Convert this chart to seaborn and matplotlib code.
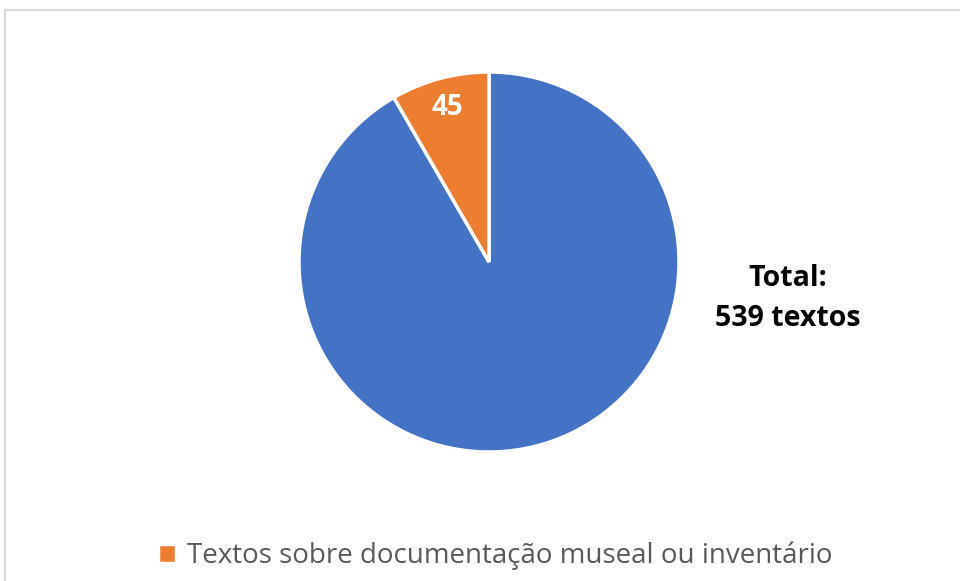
import matplotlib
matplotlib.use('Agg')
import matplotlib.pyplot as plt
import matplotlib.patches as mpatches
import seaborn as sns

# dados do gráfico
categorias = ['Outros textos', 'Textos sobre documentação museal ou inventário']
valores = [494, 45]
cores = ['#4472C4', '#ED7D31']
total_texto = 'Total:\n539 textos'

sns.set_theme(style='white')
plt.rcParams['font.family'] = ['Open Sans', 'DejaVu Sans']

fig = plt.figure(figsize=(9.6, 5.81), dpi=100)
W, H = 960, 581

# moldura cinza clara do gráfico (sai pela direita e por baixo)
fig.patches.append(mpatches.Rectangle((4.5 / W, -1), 2, 2 - 9.5 / H, transform=fig.transFigure,
                                      fill=False, edgecolor='#d9d9d9', linewidth=1.5))

# eixo quadrado para a pizza: centro (489, 262), raio 190 px
ax = fig.add_axes([299 / W, 1 - 452 / H, 380 / W, 380 / H])


def rotulo(pct):
    v = round(pct * sum(valores) / 100)
    return '{0}'.format(v) if v == valores[1] else ''


wedges, _, autotexts = ax.pie(valores, colors=cores, startangle=90, counterclock=False,
                              autopct=rotulo, pctdistance=0.84,
                              wedgeprops=dict(edgecolor='white', linewidth=2.5))
for t in autotexts:
    t.set_color('white')
    t.set_fontweight('bold')
    t.set_fontsize(20)
ax.set_xlim(-1, 1)
ax.set_ylim(-1, 1)
ax.set_aspect('equal')
ax.axis('off')

fig.text(788 / W, 1 - 298 / H, total_texto, ha='center', va='center',
         fontsize=20.5, fontweight='bold', color='black', linespacing=1.5)

fig.legend(handles=[wedges[1]], labels=[categorias[1]], loc='center',
           bbox_to_anchor=(495 / W, 1 - 556 / H), frameon=False,
           fontsize=20, labelcolor='#595959', handlelength=0.65, handleheight=0.65,
           handletextpad=0.4)

fig.savefig('out.png', dpi=100)
